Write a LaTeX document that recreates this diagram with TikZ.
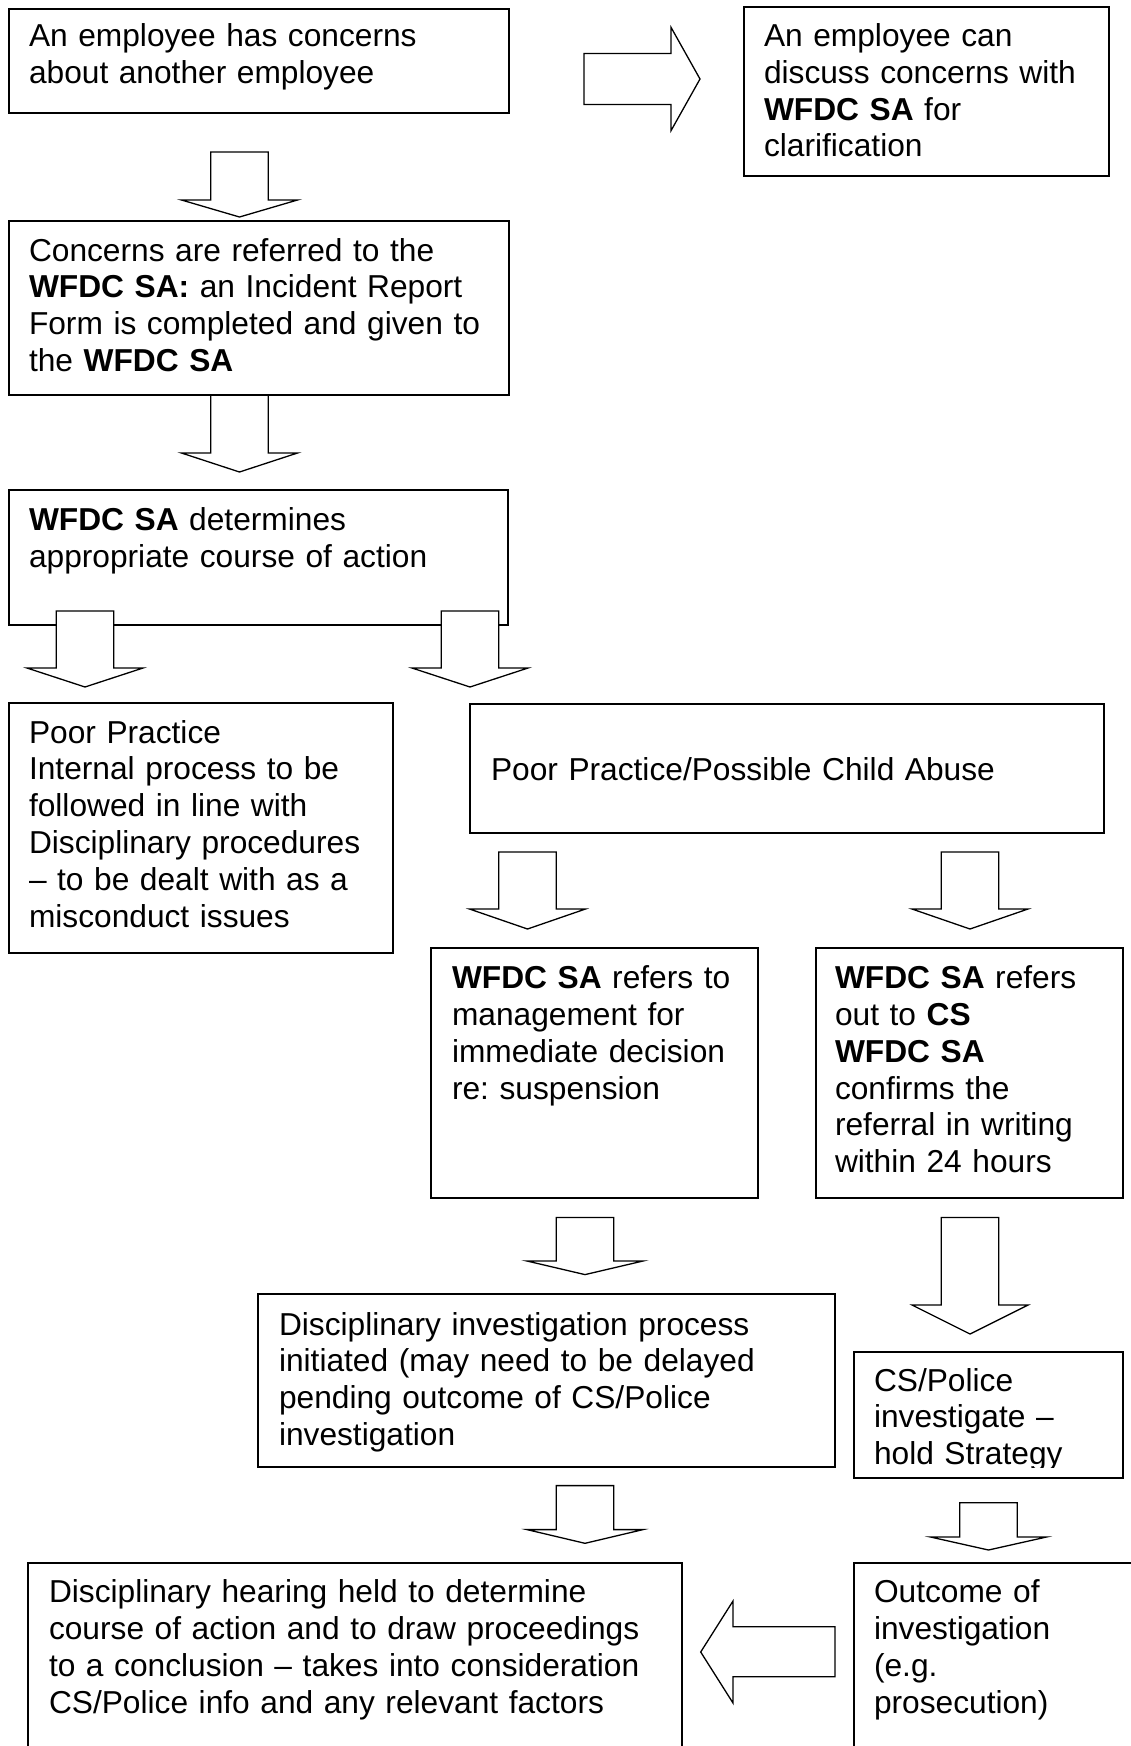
\documentclass[tikz,border=0pt]{standalone}
\usepackage{fontspec}
\setmainfont{Liberation Sans}
\frenchspacing
\tikzset{
  box/.style={draw, line width=2pt, inner sep=0pt, outer sep=0pt, anchor=north west},
  txt/.style={inner sep=0pt, outer sep=0pt, anchor=base west, text width=720pt, align=left,
    font=\fontsize{31.7}{36.8}\selectfont\frenchspacing},
  blk/.style={draw, line width=1.3pt, fill=white, line join=miter}
}
\newcommand{\boxat}[5]{\node[box, minimum width={(#4-#2)*1pt}, minimum height={(#5-#3)*1pt}] (#1) at (#2,#3) {};}
\newcommand{\blockdown}[4]{\draw[blk] (#1-28.8,#2) -- (#1+28.8,#2) -- (#1+28.8,#3) -- (#1+58,#3) -- (#1,#4) -- (#1-58,#3) -- (#1-28.8,#3) -- cycle;}
\begin{document}
\begin{tikzpicture}[x=1pt, y=-1pt]
\useasboundingbox (0,0) rectangle (1131,1746);
\fill[white] (0,0) rectangle (1131,1746);
\clip (0,0) rectangle (1131,1746);

% boxes
\boxat{b1}{8.7}{9}{508.7}{113}
\boxat{b2}{744}{7.3}{1109}{175.7}
\boxat{b3}{8.7}{221}{508.7}{395.3}
\boxat{b4}{8.7}{490.4}{508.2}{624.8}
\boxat{b5}{8.7}{703.2}{393.2}{953.2}
\boxat{b6}{469.7}{703.6}{1104}{833.2}
\boxat{b7}{430.7}{948}{757.6}{1198}
\boxat{b8}{816}{948}{1123.4}{1198}
\boxat{b9}{258.3}{1294}{834.8}{1467}
\boxat{b10}{853.5}{1351.5}{1123.4}{1477.5}
\boxat{b11}{27.7}{1563}{681.5}{1800}
\boxat{b12}{853.5}{1563}{1200}{1800}

% texts
\node[txt] (t1) at (29,46.5) {An employee has concerns\\about another employee};
\node[txt] (t2) at (764,46.5) {An employee can\\discuss concerns with\\\textbf{WFDC SA} for\\clarification};
\node[txt] (t3) at (29,261) {Concerns are referred to the\\\textbf{WFDC SA:} an Incident Report\\Form is completed and given to\\the \textbf{WFDC SA}};
\node[txt] (t4) at (29,530.7) {\textbf{WFDC SA} determines\\appropriate course of action};
\node[txt] (t5) at (29,743) {Poor Practice\\Internal process to be\\followed in line with\\Disciplinary procedures\\– to be dealt with as a\\misconduct issues};
\node[txt] (t6) at (491,780) {Poor Practice/Possible Child Abuse};
\node[txt] (t7) at (452,988.6) {\textbf{WFDC SA} refers to\\management for\\immediate decision\\re: suspension};
\node[txt] (t8) at (835,988.6) {\textbf{WFDC SA} refers\\out to \textbf{CS}\\\textbf{WFDC SA}\\confirms the\\referral in writing\\within 24 hours};
\node[txt] (t9) at (279,1335) {Disciplinary investigation process\\initiated (may need to be delayed\\pending outcome of CS/Police\\investigation};
\begin{scope}
  \clip (853,1351) rectangle (1123,1467);
  \node[txt] (t10) at (874,1391) {CS/Police\\investigate –\\hold Strategy};
\end{scope}
\node[txt] (t11) at (49,1602.7) {Disciplinary hearing held to determine\\course of action and to draw proceedings\\to a conclusion – takes into consideration\\CS/Police info and any relevant factors};
\node[txt] (t12) at (874,1602.7) {Outcome of\\investigation\\(e.g.\\prosecution)};

% block arrows
\draw[blk] (584,53.5) -- (671,53.5) -- (671,27.3) -- (700,79) -- (671,130.7) -- (671,104.5) -- (584,104.5) -- cycle;
\blockdown{239.5}{152}{200}{217}
\blockdown{239.5}{395.3}{453}{472}
\blockdown{85}{611}{668}{687}
\blockdown{470}{611}{668}{687}
\blockdown{527.5}{852}{909}{929}
\blockdown{970}{852}{909}{929}
\blockdown{585}{1217.4}{1261}{1274.6}
\blockdown{970}{1217.4}{1305}{1334}
\blockdown{585}{1485.6}{1529.6}{1543.3}
\blockdown{988.5}{1502.7}{1537}{1550}
\draw[blk] (835,1626.7) -- (733,1626.7) -- (733,1601) -- (700.7,1652) -- (733,1703) -- (733,1676.7) -- (835,1676.7) -- cycle;
\end{tikzpicture}
\end{document}
